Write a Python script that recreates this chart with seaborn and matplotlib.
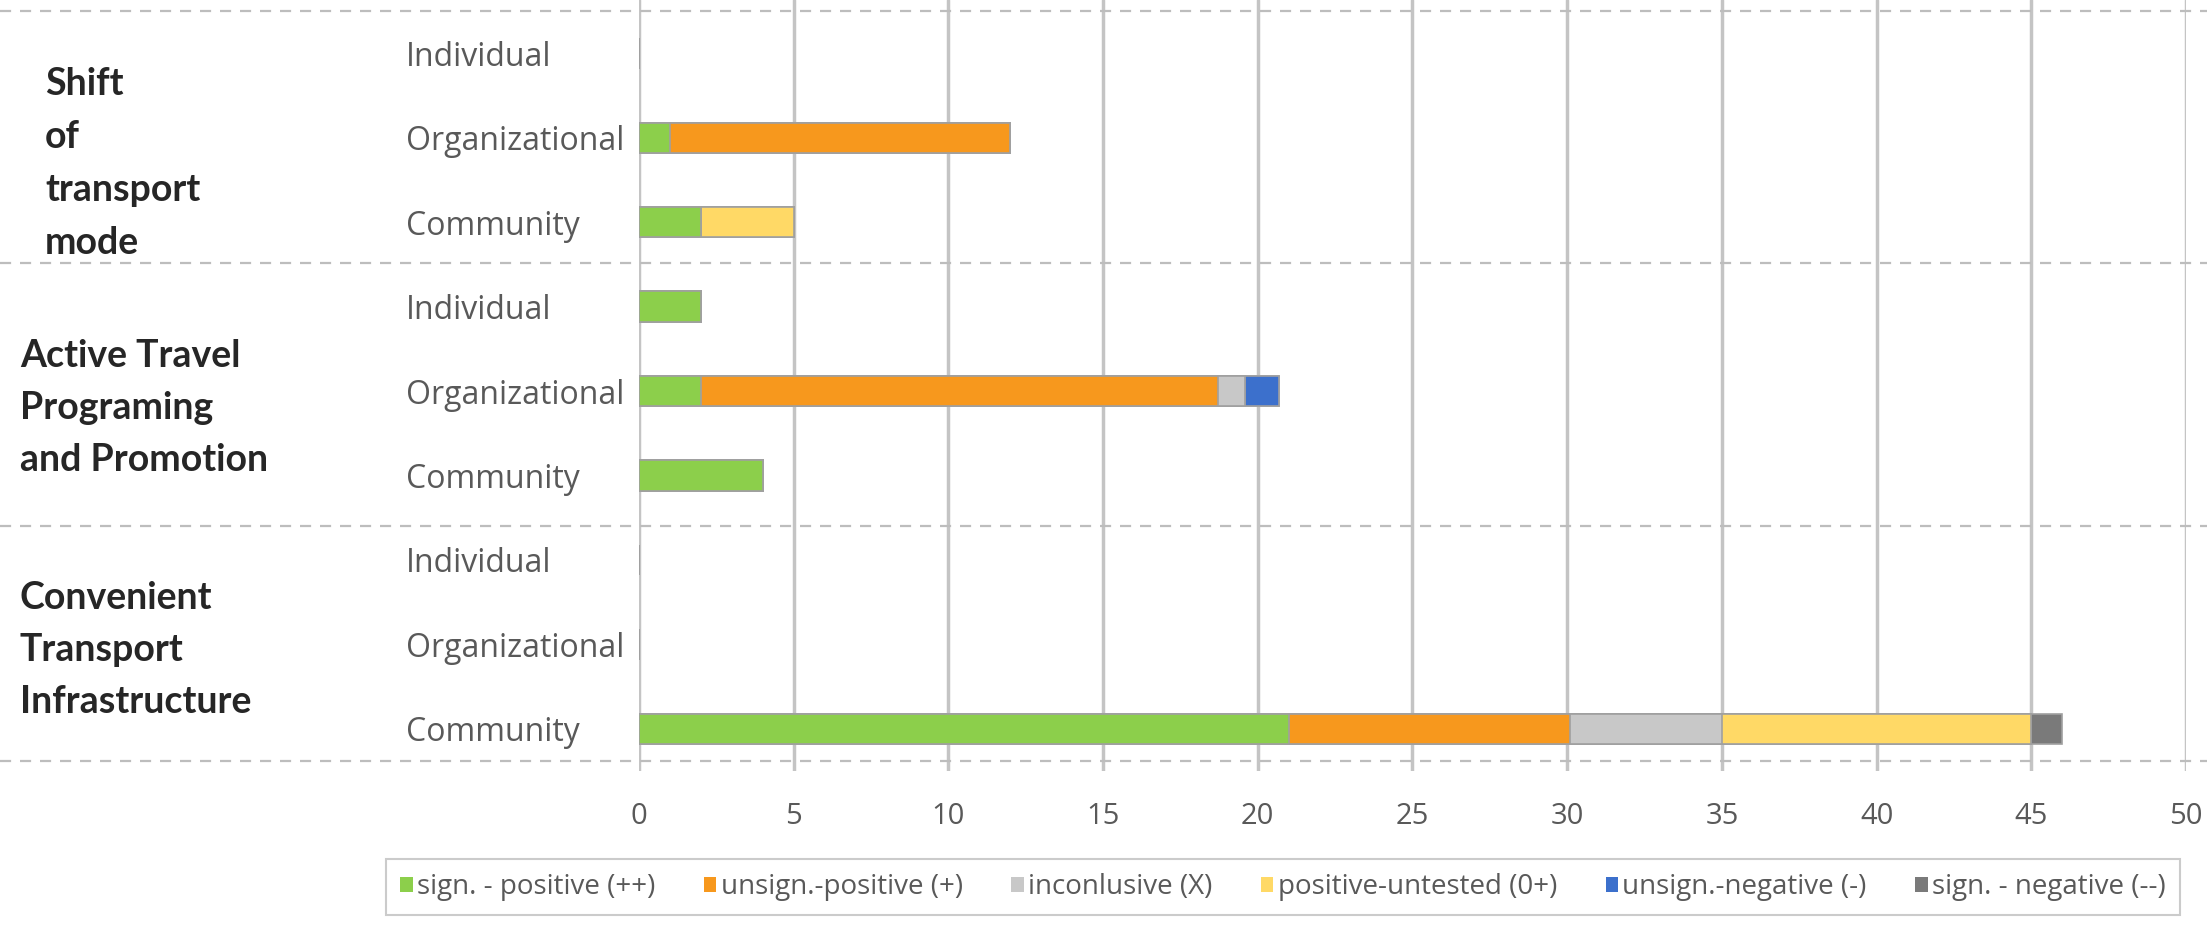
import numpy as np
import pandas as pd
import seaborn as sns
import matplotlib.pyplot as plt
from matplotlib.patches import Patch
from matplotlib.transforms import blended_transform_factory

# data
groups = ['Shift\nof\ntransport\nmode',
          'Active Travel\nPrograming\nand Promotion',
          'Convenient\nTransport\nInfrastructure']
levels = ['Individual', 'Organizational', 'Community']
series = ['sign. - positive (++)', 'unsign.-positive (+)', 'inconlusive (X)',
          'positive-untested (0+)', 'unsign.-negative (-)', 'sign. - negative (--)']
colors = ['#8CCF4B', '#F7981D', '#C8C8C8', '#FFD966', '#3C70CC', '#7A7A7A']

sig_pos = [0, 1, 2, 2, 2, 4, 0, 0, 21]
unsig_pos = [0, 11, 0, 0, 16.7, 0, 0, 0, 9.1]
inconcl = [0, 0, 0, 0, 0.9, 0, 0, 0, 4.9]
untested = [0, 0, 3, 0, 0, 0, 0, 0, 10]
unsig_neg = [0, 0, 0, 0, 1.1, 0, 0, 0, 0]
sig_neg = [0, 0, 0, 0, 0, 0, 0, 0, 1]

rows = [f'r{i}' for i in range(9)]
row_labels = levels * 3
vals = np.array([sig_pos, unsig_pos, inconcl, untested, unsig_neg, sig_neg])
cum = np.cumsum(vals, axis=0)

sns.set_style("white")
plt.rcParams['font.family'] = ['Open Sans', 'DejaVu Sans']

fig = plt.figure(figsize=(22.07, 9.25), dpi=100)
ax = fig.add_axes([0.2895, 0.1665, 0.701, 0.8335])

# stacked bars: draw cumulative totals from the outermost layer inwards
for i in range(len(series) - 1, -1, -1):
    df = pd.DataFrame({'row': rows, 'val': cum[i]})
    sns.barplot(data=df, x='val', y='row', order=rows, color=colors[i],
                saturation=1, width=0.36, edgecolor='#A0A0A0', linewidth=1.2,
                orient='h', ax=ax)

ax.set_xlim(0, 50)
ax.set_ylim(8.5, -0.633)
ax.set_xticks(range(0, 51, 5))
ax.set_yticks(range(9))
ax.set_yticklabels(row_labels)
ax.set_xlabel('')
ax.set_ylabel('')
ax.xaxis.grid(True, color='#C4C4C4', linewidth=2.5)
ax.yaxis.grid(False)
ax.set_axisbelow(True)
for s in ax.spines.values():
    s.set_visible(False)
ax.tick_params(axis='x', length=0, pad=22, labelsize=21, labelcolor='#595959')
ax.tick_params(axis='y', length=0, pad=168, labelsize=23, labelcolor='#595959')
for lab in ax.get_yticklabels():
    lab.set_ha('left')

# dashed group separators across the whole width
for y in [-0.5, 2.483, 5.6, 8.383]:
    ax.plot([-0.413, 1.0136], [y, y], transform=ax.get_yaxis_transform(),
            color='#BDBDBD', linestyle=(0, (5, 4)), linewidth=1.6, clip_on=False)

# group labels
tr = blended_transform_factory(fig.transFigure, ax.transData)
ax.text(0.0205, 1.3, groups[0], transform=tr, fontsize=27, fontweight='bold',
        family='Lato', va='center', ha='left', linespacing=1.68)
ax.text(0.009, 4.2, groups[1], transform=tr, fontsize=27, fontweight='bold',
        family='Lato', va='center', ha='left', linespacing=1.64)
ax.text(0.009, 7.07, groups[2], transform=tr, fontsize=27, fontweight='bold',
        family='Lato', va='center', ha='left', linespacing=1.64)

handles = [Patch(facecolor=c, edgecolor='none') for c in colors]
leg = fig.legend(handles, series, loc='center', bbox_to_anchor=(0.5813, 0.041),
                 ncol=6, fontsize=20, frameon=True, fancybox=False,
                 handlelength=0.45, handleheight=0.45, handletextpad=0.15,
                 columnspacing=1.75, borderpad=0.5, shadow=False)
leg.get_frame().set_edgecolor('#BFBFBF')
leg.get_frame().set_linewidth(1.5)
for t in leg.get_texts():
    t.set_color('#595959')

fig.savefig('out.png', dpi=100)
